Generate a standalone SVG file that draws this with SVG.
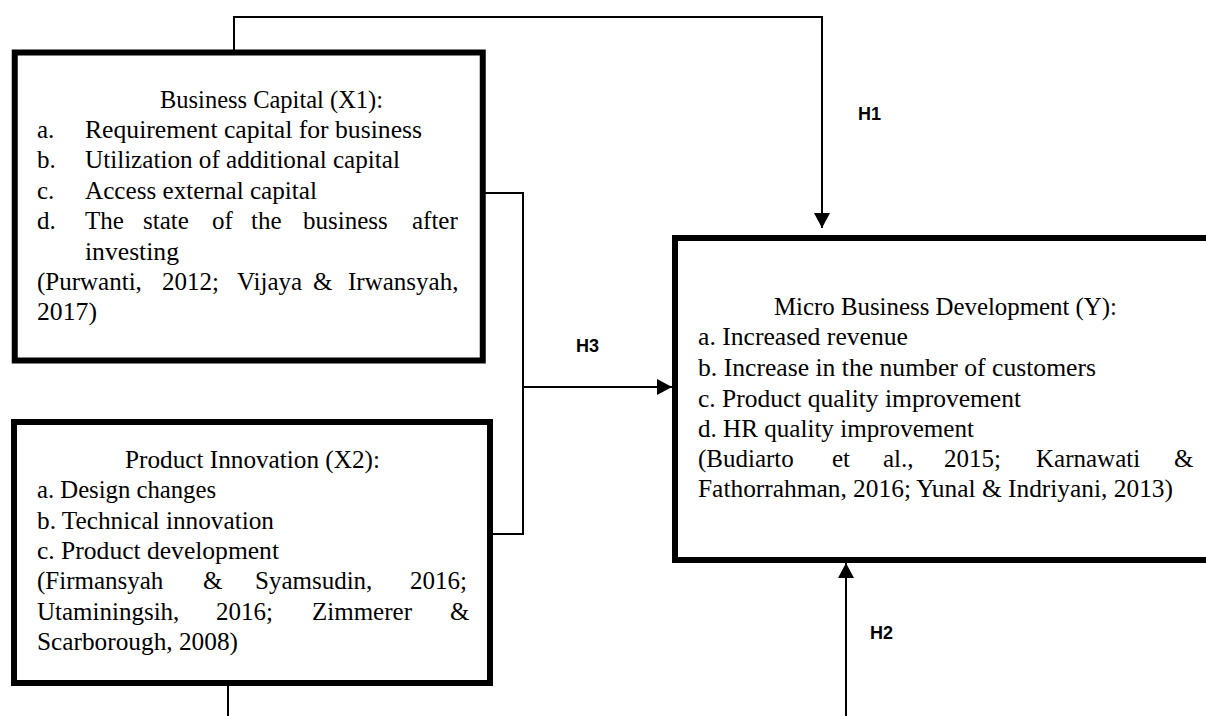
<svg xmlns="http://www.w3.org/2000/svg" width="1206" height="716" viewBox="0 0 1206 716">
<defs>
<marker id="arr" viewBox="0 0 15 16" refX="15" refY="8" markerWidth="15" markerHeight="16" orient="auto" markerUnits="userSpaceOnUse">
<path d="M0,0 L15,8 L0,16 z" fill="#000"/>
</marker>
<style>
.box{fill:#fff;stroke:#000;stroke-width:6}
.t{font-family:"Liberation Serif","Times New Roman",serif;font-size:25px;fill:#000}
.lbl{font-family:"Liberation Sans",Arial,sans-serif;font-size:18px;font-weight:bold;fill:#000}
.con{fill:none;stroke:#000;stroke-width:2}
</style>
</defs>
<rect width="1206" height="716" fill="#fff"/>

<g id="connectors">
<path class="con" d="M234,50 V17 H822 V228" marker-end="url(#arr)"/>
<path class="con" d="M485,193 H523 V534 H486"/>
<path class="con" d="M523,387 H672" marker-end="url(#arr)"/>
<path class="con" d="M846,716 V563" marker-end="url(#arr)"/>
<path class="con" d="M228,686 V716"/>
<text class="lbl" x="858" y="120">H1</text>
<text class="lbl" x="576" y="352">H3</text>
<text class="lbl" x="870" y="639">H2</text>
</g>

<g id="node-x1">
<rect class="box" x="14.75" y="52.5" width="468" height="308" stroke-width="5.5"/>
<text class="t" x="160" y="108" textLength="223" lengthAdjust="spacingAndGlyphs">Business Capital (X1):</text>
<text class="t" x="37" y="138">a.</text>
<text class="t" x="85" y="138" textLength="337" lengthAdjust="spacingAndGlyphs">Requirement capital for business</text>
<text class="t" x="37" y="168">b.</text>
<text class="t" x="85" y="168" textLength="315" lengthAdjust="spacingAndGlyphs">Utilization of additional capital</text>
<text class="t" x="37" y="199">c.</text>
<text class="t" x="85" y="199" textLength="232" lengthAdjust="spacingAndGlyphs">Access external capital</text>
<text class="t" x="37" y="229">d.</text>
<text class="t" y="229"><tspan x="85">The</tspan><tspan x="143">state</tspan><tspan x="212">of</tspan><tspan x="251">the</tspan><tspan x="303">business</tspan><tspan x="412">after</tspan></text>
<text class="t" x="85" y="260" textLength="94" lengthAdjust="spacingAndGlyphs">investing</text>
<text class="t" y="290"><tspan x="37">(Purwanti,</tspan><tspan x="162">2012;</tspan><tspan x="237">Vijaya</tspan><tspan x="313">&amp;</tspan><tspan x="348">Irwansyah,</tspan></text>
<text class="t" x="37" y="320" textLength="60" lengthAdjust="spacingAndGlyphs">2017)</text>
</g>

<g id="node-x2">
<rect class="box" x="14" y="422" width="476" height="261"/>
<text class="t" x="125" y="468" textLength="255" lengthAdjust="spacingAndGlyphs">Product Innovation (X2):</text>
<text class="t" x="37" y="498" textLength="179" lengthAdjust="spacingAndGlyphs">a. Design changes</text>
<text class="t" x="37" y="529" textLength="237" lengthAdjust="spacingAndGlyphs">b. Technical innovation</text>
<text class="t" x="37" y="559" textLength="242" lengthAdjust="spacingAndGlyphs">c. Product development</text>
<text class="t" y="589"><tspan x="37">(Firmansyah</tspan><tspan x="203">&amp;</tspan><tspan x="255">Syamsudin,</tspan><tspan x="410">2016;</tspan></text>
<text class="t" y="620"><tspan x="37">Utaminingsih,</tspan><tspan x="216">2016;</tspan><tspan x="312">Zimmerer</tspan><tspan x="450">&amp;</tspan></text>
<text class="t" x="37" y="650" textLength="201" lengthAdjust="spacingAndGlyphs">Scarborough, 2008)</text>
</g>

<g id="node-y">
<rect class="box" x="675" y="238" width="560" height="322"/>
<text class="t" x="774" y="315" textLength="343" lengthAdjust="spacingAndGlyphs">Micro Business Development (Y):</text>
<text class="t" x="698" y="345" textLength="210" lengthAdjust="spacingAndGlyphs">a. Increased revenue</text>
<text class="t" x="698" y="376" textLength="398" lengthAdjust="spacingAndGlyphs">b. Increase in the number of customers</text>
<text class="t" x="698" y="407" textLength="323" lengthAdjust="spacingAndGlyphs">c. Product quality improvement</text>
<text class="t" x="698" y="437" textLength="276" lengthAdjust="spacingAndGlyphs">d. HR quality improvement</text>
<text class="t" y="467"><tspan x="698">(Budiarto</tspan><tspan x="832">et</tspan><tspan x="883">al.,</tspan><tspan x="944">2015;</tspan><tspan x="1036">Karnawati</tspan><tspan x="1174">&amp;</tspan></text>
<text class="t" x="698" y="497" textLength="475" lengthAdjust="spacingAndGlyphs">Fathorrahman, 2016; Yunal &amp; Indriyani, 2013)</text>
</g>
</svg>
